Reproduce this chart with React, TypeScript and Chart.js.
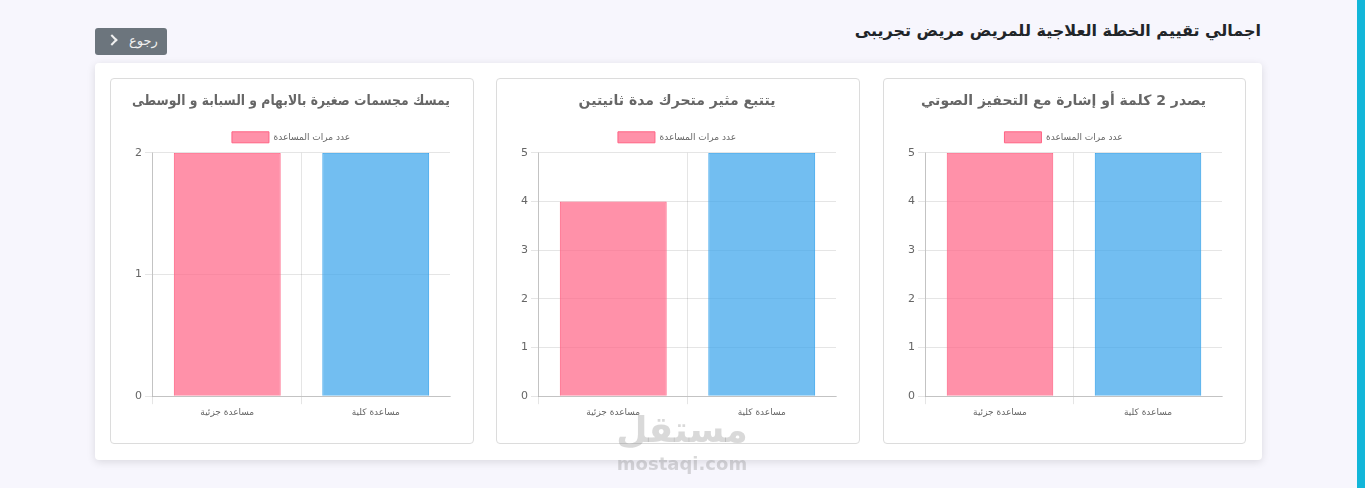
import React, { useEffect, useRef } from "react";
import { Chart, registerables } from "chart.js";

Chart.register(...registerables);

const pageTitle = "اجمالي تقييم الخطة العلاجية للمريض مريض تجريبى";
const backLabel = "رجوع";
const categories = ["مساعدة جزئية", "مساعدة كلية"];
const datasetLabel = "عدد مرات المساعدة";

const titleLeft = "يمسك مجسمات صغيرة بالابهام و السبابة و الوسطى";
const titleMiddle = "يتتبع مثير متحرك مدة ثانيتين";
const titleRight = "يصدر 2 كلمة أو إشارة مع التحفيز الصوتي";

const valuesLeft = [2, 2];
const valuesMiddle = [4, 5];
const valuesRight = [5, 5];

const barFill = ["rgba(255, 99, 132, 0.7)", "rgba(54, 162, 235, 0.7)"];
const barBorder = ["rgba(255, 99, 132, 1)", "rgba(54, 162, 235, 1)"];

const FONT = "'DejaVu Sans', sans-serif";

type CardProps = { title: string; values: number[]; left: number; top: number; width: number; height: number };

function ChartCard({ title, values, left, top, width, height }: CardProps) {
  const ref = useRef<HTMLCanvasElement | null>(null);
  useEffect(() => {
    if (!ref.current) return;
    const chart = new Chart(ref.current, {
      type: "bar",
      data: {
        labels: categories,
        datasets: [
          {
            label: datasetLabel,
            data: values,
            backgroundColor: barFill,
            borderColor: barBorder,
            borderWidth: 1,
          },
        ],
      },
      options: {
        responsive: false,
        animation: false,
        layout: { padding: { left: 21, right: 23, top: 0, bottom: 22 } },
        plugins: {
          title: {
            display: true,
            text: title,
            color: "#666",
            font: { family: FONT, size: 14, weight: "bold" },
            padding: { top: 14, bottom: 14 },
          },
          legend: {
            display: true,
            labels: {
              color: "#666",
              font: { family: FONT, size: 9 },
              boxWidth: 37,
              boxHeight: 11,
              padding: 8,
            },
          },
          tooltip: { enabled: false },
        },
        scales: {
          x: {
            grid: {
              color: (ctx: any) =>
                ctx.type === "tick" && typeof ctx.index === "number" && ctx.index < categories.length
                  ? "rgba(0,0,0,0.1)"
                  : "rgba(0,0,0,0)",
              tickLength: 8,
            },
            border: { color: "rgba(0,0,0,0.15)" },
            ticks: { color: "#666", font: { family: FONT, size: 9 } },
          },
          y: {
            beginAtZero: true,
            grid: { color: "rgba(0,0,0,0.1)", tickLength: 8 },
            border: { color: "rgba(0,0,0,0.15)" },
            ticks: { stepSize: 1, color: "#666", font: { family: FONT, size: 11 } },
          },
        },
      },
    });
    return () => chart.destroy();
  }, [title, values]);

  return (
    <div
      style={{
        position: "absolute",
        left,
        top,
        width,
        height,
        boxSizing: "border-box",
        border: "1px solid #dcdcdc",
        borderRadius: 4,
        background: "#fff",
      }}
    >
      <canvas ref={ref} width={width - 2} height={height - 2} style={{ display: "block" }} />
    </div>
  );
}

export default function App() {
  useEffect(() => {
    document.body.style.margin = "0";
    document.body.style.background = "#f7f6fd";
  }, []);
  return (
    <div style={{ position: "relative", width: 1365, height: 488, background: "#f7f6fd", overflow: "hidden", fontFamily: FONT }}>
      <div style={{ position: "absolute", right: 0, top: 0, width: 8, height: 488, background: "#13b6d9" }} />
      <div
        dir="rtl"
        style={{ position: "absolute", right: 104, top: 21, fontSize: 16, fontWeight: "bold", color: "#212529", whiteSpace: "nowrap" }}
      >
        {pageTitle}
      </div>
      <div
        style={{
          position: "absolute",
          left: 95,
          top: 28,
          width: 72,
          height: 27,
          background: "#6c757d",
          borderRadius: 3,
          color: "#f1f1f1",
          display: "flex",
          alignItems: "center",
          justifyContent: "center",
          gap: 13,
          fontSize: 13,
        }}
      >
        <span
          style={{
            display: "inline-block",
            width: 6,
            height: 6,
            borderTop: "2px solid #f1f1f1",
            borderRight: "2px solid #f1f1f1",
            transform: "rotate(45deg)",
            marginLeft: 4,
            marginTop: -3,
          }}
        />
        <span dir="rtl" style={{ marginTop: -2 }}>{backLabel}</span>
      </div>
      <div
        style={{
          position: "absolute",
          left: 95,
          top: 63,
          width: 1167,
          height: 397,
          background: "#fff",
          borderRadius: 4,
          boxShadow: "0 2px 8px rgba(0,0,0,0.12)",
        }}
      />
      <ChartCard title={titleLeft} values={valuesLeft} left={110} top={78} width={364} height={366} />
      <ChartCard title={titleMiddle} values={valuesMiddle} left={496} top={78} width={364} height={366} />
      <ChartCard title={titleRight} values={valuesRight} left={883} top={78} width={363} height={366} />
      <div
        style={{
          position: "absolute",
          left: 582,
          top: 412,
          width: 200,
          textAlign: "center",
          color: "rgba(120,120,120,0.28)",
          fontWeight: "bold",
          pointerEvents: "none",
          lineHeight: 1,
        }}
      >
        <div dir="rtl" style={{ fontSize: 36 }}>مستقل</div>
        <div style={{ fontSize: 18, marginTop: 7 }}>mostaqi.com</div>
      </div>
    </div>
  );
}
